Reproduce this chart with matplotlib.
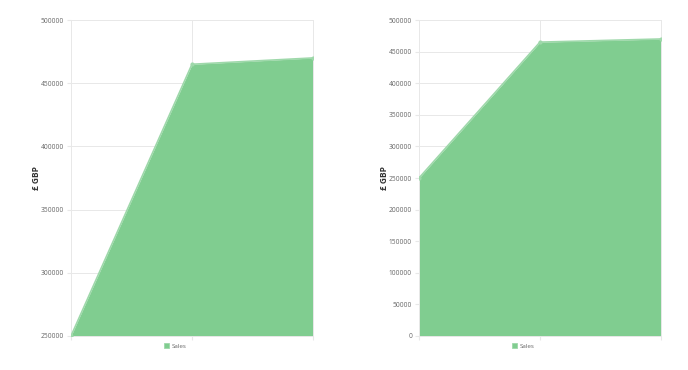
import matplotlib.pyplot as plt

categories = ["A", "B", "C"]
sales = [250000, 465000, 470000]

left_ticks = [250000, 300000, 350000, 400000, 450000, 500000]
right_ticks = [0, 50000, 100000, 150000, 200000, 250000, 300000, 350000, 400000, 450000, 500000]

fill_color = "#80cd90"
edge_color = "#9ed8aa"
grid_color = "#e8e8e8"

plt.rcParams['font.family'] = ['Open Sans', 'DejaVu Sans']

fig = plt.figure(figsize=(6.88, 3.70), dpi=100)
ax1 = fig.add_axes([0.1032, 0.0919, 0.3517, 0.854])
ax2 = fig.add_axes([0.609, 0.0919, 0.3517, 0.854])


def draw(ax, ticks, ymin):
    x = list(range(len(categories)))
    ax.fill_between(x, ymin, sales, color=fill_color, linewidth=0, label="Sales", zorder=2)
    ax.plot(x, sales, color=edge_color, linewidth=1.2, marker="o", markersize=2, zorder=3)
    ax.set_xlim(0, len(categories) - 1)
    ax.set_ylim(ymin, 500000)
    ax.set_yticks(ticks)
    ax.set_yticklabels([str(t) for t in ticks])
    ax.set_xticks(x)
    ax.set_xticklabels([])
    ax.grid(True, color=grid_color, linewidth=0.7, zorder=0)
    for s in ax.spines.values():
        s.set_color(grid_color)
        s.set_linewidth(0.7)
    ax.tick_params(axis="both", length=3, color=grid_color, labelsize=4.8, labelcolor="#666666", pad=2)
    ax.set_ylabel("£ GBP", fontsize=6, fontweight="bold", color="#333333")
    ax.yaxis.set_label_coords(-0.122, 0.5)
    leg = ax.legend(loc="upper center", bbox_to_anchor=(0.43, -0.005), frameon=False,
                    fontsize=4.5, handlelength=0.8, handleheight=0.8, handletextpad=0.5)
    for t in leg.get_texts():
        t.set_color("#666666")
    for h in leg.legend_handles:
        h.set_edgecolor(edge_color)
        h.set_linewidth(0.6)


draw(ax1, left_ticks, 250000)
draw(ax2, right_ticks, 0)

fig.savefig("out.png", dpi=100)
